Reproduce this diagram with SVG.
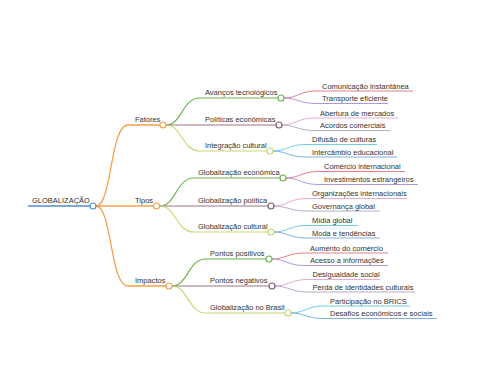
<svg xmlns="http://www.w3.org/2000/svg" width="480" height="384" viewBox="0 0 480 384">
<style>
text{font-family:"Liberation Sans",Arial,sans-serif;font-size:7.5px;fill:#333}
.c{fill:#fff;stroke-width:1.2}
path{fill:none}
.l1{stroke:#f5a04a;stroke-width:1.3}
.l2{stroke-width:1.1}
.l3{stroke-width:0.9}
.g{stroke:#6cb24e}.m{stroke:#9e7482}.y{stroke:#c9d86e}
.r{stroke:#e0707a}.p{stroke:#a98ad8}.k{stroke:#e6a0cc}.s{stroke:#b0a3bd}.cy{stroke:#62c6e2}.b{stroke:#6fa6dc}
</style>
<rect width="480" height="384" fill="#fff"/>
<g id="connectors">
<path d="M28,206 L90,206" stroke="#4f8fcf" stroke-width="1.5"/>
<path class="l1" d="M96,206 C112,206 110,125 128,125 L160,125"/>
<path class="l1" d="M96,206 L153.5,206"/>
<path class="l1" d="M96,206 C112,206 110,286 128,286 L166,286"/>
<path class="l2 g" d="M166,125 C182,125 182,98 200,98 L278,98"/>
<path class="l2 m" d="M166,125 L276,125"/>
<path class="l2 y" d="M166,125 C182,125 182,151 200,151 L267,151"/>
<path class="l2 g" d="M160,206 C176,206 176,178 194,178 L280,178"/>
<path class="l2 m" d="M160,206 L268,206"/>
<path class="l2 y" d="M160,206 C176,206 176,232 194,232 L268,232"/>
<path class="l2 g" d="M172,286 C188,286 188,259 206,259 L266,259"/>
<path class="l2 m" d="M172,286 L269,286"/>
<path class="l2 y" d="M172,286 C188,286 188,313 206,313 L285,313"/>
<path class="l3 r" d="M284,98 C297,98 300,91 316,91 L413,91"/>
<path class="l3 p" d="M284,98 C297,98 300,103.5 316,103.5 L388,103.5"/>
<path class="l3 k" d="M282,125 C295,125 298,118 314,118 L398,118"/>
<path class="l3 s" d="M282,125 C295,125 298,130.5 314,130.5 L390,130.5"/>
<path class="l3 cy" d="M273,151 C286,151 289,144.5 306,144.5 L377,144.5"/>
<path class="l3 b" d="M273,151 C286,151 289,157 306,157 L397,157"/>
<path class="l3 r" d="M286,178 C299,178 302,171.5 318,171.5 L405,171.5"/>
<path class="l3 p" d="M286,178 C299,178 302,184.5 318,184.5 L418,184.5"/>
<path class="l3 k" d="M274,206 C287,206 290,198.5 306,198.5 L407,198.5"/>
<path class="l3 s" d="M274,206 C287,206 290,211 306,211 L380,211"/>
<path class="l3 cy" d="M274,232 C287,232 290,225.5 306,225.5 L358,225.5"/>
<path class="l3 b" d="M274,232 C287,232 290,238 306,238 L380,238"/>
<path class="l3 r" d="M272,259 C285,259 288,253 304,253 L388,253"/>
<path class="l3 p" d="M272,259 C285,259 288,265.5 304,265.5 L388,265.5"/>
<path class="l3 k" d="M275,286 C288,286 291,279.5 307,279.5 L380,279.5"/>
<path class="l3 s" d="M275,286 C288,286 291,292 307,292 L415,292"/>
<path class="l3 cy" d="M291,313 C304,313 307,306 324,306 L410,306"/>
<path class="l3 b" d="M291,313 C304,313 307,318.5 324,318.5 L437,318.5"/>
</g>
<g id="root"><text x="32" y="203">GLOBALIZAÇÃO</text><circle class="c" cx="93" cy="206" r="3" stroke="#4f8fcf"/></g>
<g id="fatores"><text x="135" y="122">Fatores</text><circle class="c" cx="163" cy="125" r="3" stroke="#f5a04a"/></g>
<g id="tipos"><text x="135" y="203">Tipos</text><circle class="c" cx="156.5" cy="206" r="3" stroke="#f5a04a"/></g>
<g id="impactos"><text x="135" y="283">Impactos</text><circle class="c" cx="169" cy="286" r="3" stroke="#f5a04a"/></g>
<g id="avancos"><text x="205" y="95">Avanços tecnológicos</text><circle class="c" cx="281" cy="98" r="3" stroke="#6cb24e"/></g>
<g id="politicas"><text x="205" y="122">Políticas econômicas</text><circle class="c" cx="279" cy="125" r="3" stroke="#7a6470"/></g>
<g id="integracao"><text x="205" y="148">Integração cultural</text><circle class="c" cx="270" cy="151" r="3" stroke="#c9d86e"/></g>
<g id="glob-econ"><text x="198" y="175">Globalização econômica</text><circle class="c" cx="283" cy="178" r="3" stroke="#6cb24e"/></g>
<g id="glob-pol"><text x="198" y="203">Globalização política</text><circle class="c" cx="271" cy="206" r="3" stroke="#7a6470"/></g>
<g id="glob-cult"><text x="198" y="229">Globalização cultural</text><circle class="c" cx="271" cy="232" r="3" stroke="#c9d86e"/></g>
<g id="positivos"><text x="210" y="256">Pontos positivos</text><circle class="c" cx="269" cy="259" r="3" stroke="#6cb24e"/></g>
<g id="negativos"><text x="210" y="283">Pontos negativos</text><circle class="c" cx="272" cy="286" r="3" stroke="#7a6470"/></g>
<g id="brasil"><text x="210" y="310">Globalização no Brasil</text><circle class="c" cx="288" cy="313" r="3" stroke="#c9d86e"/></g>
<g id="leaf1"><text x="322" y="88.5">Comunicação instantânea</text></g>
<g id="leaf2"><text x="322" y="101">Transporte eficiente</text></g>
<g id="leaf3"><text x="320" y="115.5">Abertura de mercados</text></g>
<g id="leaf4"><text x="320" y="128">Acordos comerciais</text></g>
<g id="leaf5"><text x="312" y="142">Difusão de culturas</text></g>
<g id="leaf6"><text x="312" y="154.5">Intercâmbio educacional</text></g>
<g id="leaf7"><text x="324" y="169">Comércio internacional</text></g>
<g id="leaf8"><text x="324" y="182">Investimentos estrangeiros</text></g>
<g id="leaf9"><text x="312" y="196">Organizações internacionais</text></g>
<g id="leaf10"><text x="312" y="208.5">Governança global</text></g>
<g id="leaf11"><text x="312" y="223">Mídia global</text></g>
<g id="leaf12"><text x="312" y="235.5">Moda e tendências</text></g>
<g id="leaf13"><text x="310" y="250.5">Aumento do comércio</text></g>
<g id="leaf14"><text x="310" y="263">Acesso a informações</text></g>
<g id="leaf15"><text x="312.5" y="277">Desigualdade social</text></g>
<g id="leaf16"><text x="312.5" y="289.5">Perda de identidades culturais</text></g>
<g id="leaf17"><text x="330" y="303.5">Participação no BRICS</text></g>
<g id="leaf18"><text x="330" y="316">Desafios econômicos e sociais</text></g>
</svg>
